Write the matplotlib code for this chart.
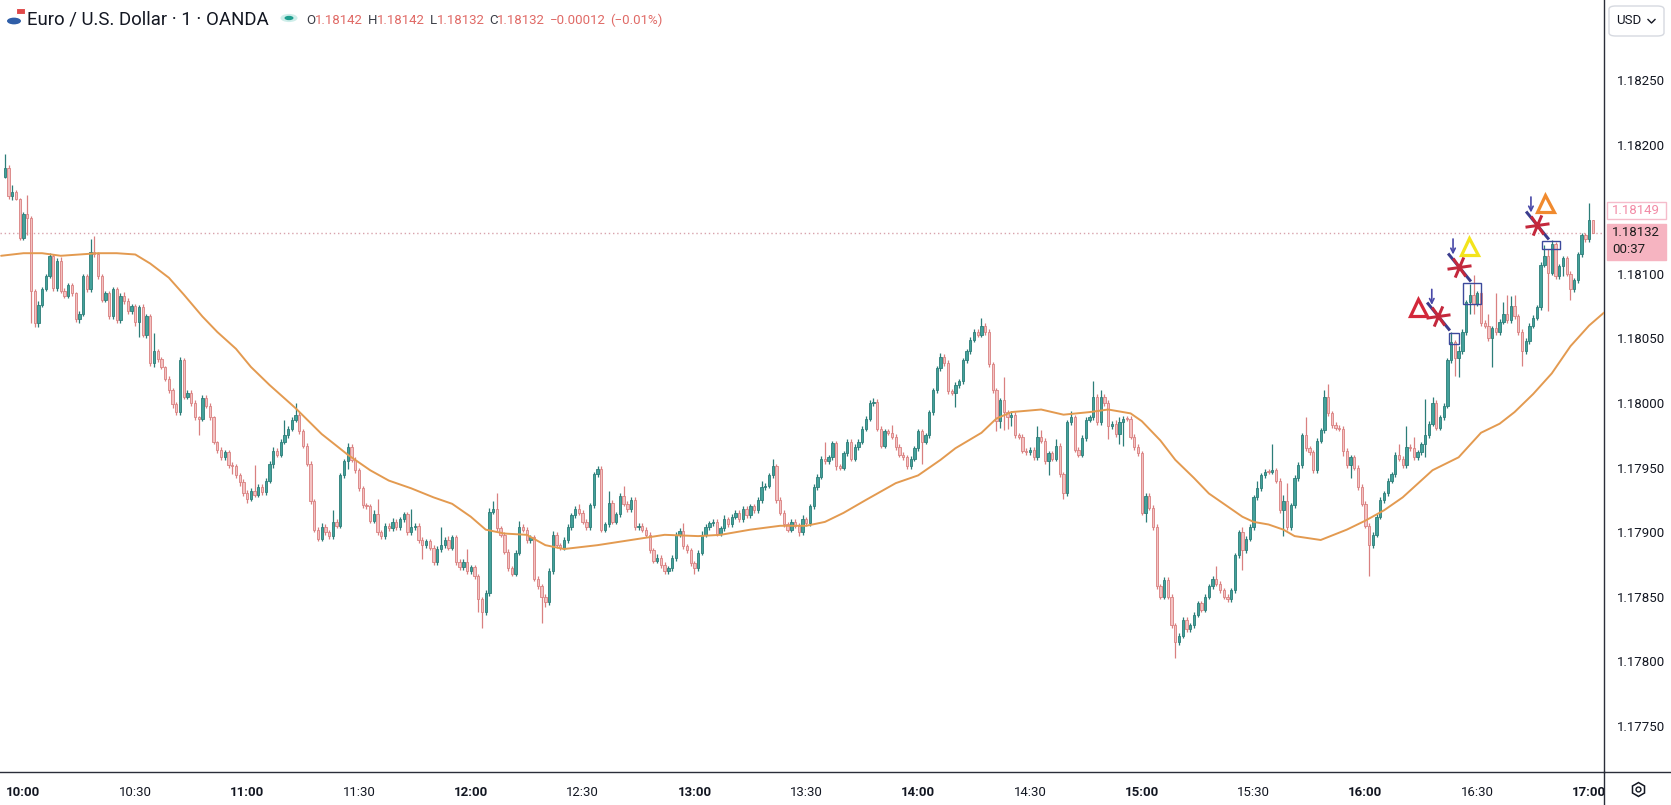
import numpy as np
import matplotlib
matplotlib.use("Agg")
import matplotlib.pyplot as plt
from matplotlib.path import Path
from matplotlib.patches import Rectangle, FancyBboxPatch, Circle
from matplotlib.lines import Line2D

W, H, DPI = 1671, 805, 100

# ---------------- data ----------------
# prices stored as integer steps of 0.00001 above 1.0  (18132 -> 1.18132)
SCALE = 1e5
first_minute = -5          # minutes after 10:00 of the first candle
first_open = 18175
closes = [
 18182, 18160, 18163, 18158, 18128, 18146, 18143, 18087, 18062, 18076,
 18088, 18098, 18114, 18089, 18110, 18087, 18083, 18091, 18085, 18065,
 18069, 18098, 18088, 18117, 18115, 18098, 18080, 18085, 18067, 18088,
 18064, 18083, 18079, 18071, 18075, 18063, 18074, 18053, 18067, 18031,
 18040, 18034, 18028, 18019, 18010, 17999, 17993, 18033, 18005, 18008,
 18000, 17989, 17988, 18004, 17998, 17989, 17970, 17964, 17958, 17962,
 17952, 17951, 17944, 17939, 17930, 17926, 17932, 17929, 17935, 17931,
 17940, 17953, 17963, 17960, 17970, 17975, 17980, 17987, 17991, 17978,
 17967, 17953, 17924, 17902, 17895, 17904, 17900, 17897, 17908, 17905,
 17944, 17955, 17966, 17956, 17948, 17934, 17921, 17920, 17909, 17914,
 17900, 17897, 17905, 17903, 17908, 17904, 17910, 17914, 17900, 17904,
 17905, 17894, 17890, 17893, 17888, 17877, 17887, 17890, 17894, 17888,
 17896, 17877, 17873, 17877, 17870, 17873, 17866, 17848, 17838, 17853,
 17916, 17918, 17903, 17898, 17885, 17872, 17868, 17884, 17904, 17902,
 17894, 17896, 17864, 17858, 17850, 17846, 17870, 17898, 17890, 17888,
 17894, 17904, 17913, 17918, 17915, 17908, 17904, 17921, 17945, 17949,
 17902, 17906, 17923, 17908, 17914, 17928, 17922, 17918, 17925, 17904,
 17905, 17902, 17898, 17886, 17878, 17880, 17875, 17870, 17872, 17880,
 17898, 17901, 17889, 17886, 17876, 17872, 17884, 17898, 17904, 17907,
 17908, 17899, 17903, 17910, 17906, 17912, 17915, 17910, 17918, 17913,
 17920, 17917, 17925, 17935, 17936, 17944, 17951, 17925, 17915, 17906,
 17902, 17908, 17905, 17900, 17910, 17907, 17920, 17935, 17943, 17957,
 17955, 17958, 17969, 17951, 17950, 17961, 17970, 17957, 17966, 17970,
 17980, 17988, 18000, 18001, 17980, 17967, 17978, 17977, 17974, 17966,
 17960, 17958, 17951, 17957, 17965, 17978, 17970, 17975, 17993, 18010,
 18027, 18036, 18031, 18009, 18008, 18014, 18017, 18033, 18040, 18049,
 18055, 18053, 18060, 18055, 18030, 18010, 17986, 18002, 17993, 17989,
 17991, 17975, 17974, 17963, 17962, 17964, 17958, 17974, 17971, 17955,
 17961, 17957, 17967, 17945, 17930, 17985, 17989, 17964, 17960, 17973,
 17987, 17989, 18005, 17985, 18005, 18000, 17982, 17984, 17976, 17985,
 17988, 17988, 17974, 17966, 17961, 17915, 17928, 17919, 17904, 17858,
 17850, 17863, 17850, 17828, 17815, 17820, 17832, 17825, 17828, 17836,
 17845, 17840, 17850, 17858, 17864, 17860, 17855, 17850, 17848, 17855,
 17882, 17900, 17886, 17895, 17904, 17927, 17934, 17944, 17947, 17947,
 17948, 17940, 17917, 17924, 17904, 17921, 17942, 17952, 17975, 17965,
 17962, 17948, 17971, 17979, 18005, 17992, 17983, 17981, 17980, 17963,
 17952, 17958, 17950, 17935, 17922, 17905, 17890, 17898, 17912, 17925,
 17930, 17940, 17945, 17960, 17957, 17952, 17966, 17965, 17958, 17962,
 17968, 17975, 17984, 18000, 17981, 17989, 17998, 18033, 18047, 18035,
 18040, 18055, 18078, 18084, 18077, 18085, 18062, 18060, 18050, 18058,
 18055, 18063, 18069, 18064, 18075, 18067, 18055, 18040, 18048, 18060,
 18066, 18074, 18107, 18114, 18101, 18123, 18098, 18106, 18112, 18100,
 18088, 18095, 18115, 18130, 18127, 18142, 18132,
]
wick_up = [
 11, 2, 6, 2, 1, 2, 15, 2, 1, 3,
 2, 2, 2, 1, 2, 3, 2, 2, 2, 1,
 2, 2, 2, 10, 12, 2, 2, 2, 2, 2,
 2, 2, 3, 2, 2, 2, 2, 3, 2, 2,
 14, 2, 2, 1, 2, 2, 2, 3, 2, 2,
 2, 2, 1, 2, 2, 2, 1, 1, 2, 2,
 2, 2, 2, 2, 2, 3, 2, 20, 2, 2,
 2, 2, 3, 2, 2, 12, 2, 2, 9, 2,
 2, 2, 2, 2, 2, 3, 2, 2, 9, 2,
 2, 2, 3, 2, 2, 2, 2, 2, 2, 3,
 12, 2, 2, 2, 3, 2, 2, 2, 2, 14,
 2, 2, 2, 2, 2, 2, 2, 14, 2, 3,
 2, 2, 2, 2, 10, 2, 2, 2, 2, 2,
 3, 6, 12, 2, 2, 2, 2, 2, 5, 2,
 2, 2, 2, 2, 2, 2, 2, 3, 2, 2,
 2, 2, 2, 2, 4, 2, 2, 2, 2, 2,
 2, 2, 9, 2, 2, 2, 8, 2, 2, 2,
 2, 2, 2, 2, 2, 3, 2, 2, 2, 2,
 2, 2, 6, 2, 2, 2, 2, 3, 2, 2,
 2, 2, 2, 3, 2, 2, 2, 2, 2, 2,
 2, 2, 2, 5, 2, 2, 6, 2, 2, 2,
 2, 2, 2, 2, 3, 2, 2, 2, 2, 2,
 13, 2, 2, 2, 2, 2, 2, 2, 2, 2,
 2, 2, 2, 3, 2, 2, 2, 2, 6, 2,
 2, 2, 2, 2, 2, 2, 2, 2, 2, 2,
 2, 3, 2, 2, 2, 2, 2, 2, 2, 2,
 2, 2, 6, 2, 2, 2, 2, 2, 18, 2,
 3, 2, 2, 2, 2, 2, 2, 8, 5, 2,
 2, 2, 5, 2, 2, 2, 5, 2, 2, 2,
 2, 2, 12, 2, 5, 2, 2, 2, 3, 4,
 2, 2, 2, 2, 2, 2, 2, 2, 2, 2,
 2, 2, 2, 2, 2, 2, 2, 2, 2, 2,
 2, 2, 2, 2, 2, 10, 2, 2, 2, 2,
 2, 2, 4, 2, 2, 2, 6, 2, 2, 2,
 20, 2, 2, 5, 14, 2, 2, 2, 2, 14,
 2, 2, 2, 2, 5, 10, 2, 2, 2, 2,
 2, 2, 2, 2, 2, 2, 2, 2, 2, 2,
 2, 2, 2, 2, 8, 2, 16, 2, 9, 2,
 2, 28, 2, 5, 2, 2, 2, 2, 8, 2,
 4, 2, 2, 8, 15, 2, 2, 2, 9, 2,
 27, 2, 9, 15, 8, 9, 2, 2, 2, 2,
 2, 2, 2, 8, 5, 3, 2, 2, 2, 2,
 2, 2, 2, 2, 2, 13, 0,
]
wick_dn = [
 1, 2, 3, 1, 2, 2, 13, 25, 3, 3,
 2, 1, 1, 2, 2, 2, 2, 2, 2, 2,
 3, 2, 2, 2, 2, 2, 2, 2, 2, 2,
 2, 2, 2, 2, 2, 3, 12, 2, 3, 2,
 3, 2, 2, 2, 2, 3, 2, 2, 2, 2,
 2, 2, 13, 2, 2, 2, 2, 3, 2, 2,
 2, 6, 2, 3, 2, 3, 2, 2, 2, 2,
 2, 2, 3, 2, 2, 2, 2, 2, 2, 2,
 2, 2, 2, 2, 2, 2, 2, 2, 2, 2,
 2, 2, 6, 2, 2, 2, 2, 2, 2, 2,
 2, 2, 2, 2, 2, 2, 2, 2, 2, 2,
 2, 2, 11, 2, 2, 2, 2, 2, 2, 2,
 2, 2, 2, 2, 2, 2, 2, 10, 12, 2,
 2, 2, 2, 2, 2, 2, 2, 2, 2, 2,
 2, 2, 2, 2, 20, 4, 2, 2, 2, 2,
 2, 2, 2, 2, 2, 2, 2, 2, 2, 2,
 2, 2, 2, 2, 2, 2, 2, 2, 2, 2,
 2, 2, 2, 2, 2, 2, 3, 2, 2, 2,
 2, 2, 2, 2, 2, 4, 2, 2, 2, 2,
 2, 2, 2, 2, 2, 2, 2, 2, 2, 2,
 2, 2, 2, 2, 2, 2, 2, 2, 2, 2,
 2, 2, 2, 3, 2, 2, 2, 2, 2, 2,
 2, 2, 2, 3, 2, 2, 2, 2, 2, 2,
 2, 2, 2, 2, 2, 2, 2, 2, 2, 2,
 2, 2, 2, 2, 2, 2, 17, 2, 2, 2,
 2, 2, 2, 2, 2, 11, 2, 2, 2, 2,
 2, 2, 2, 2, 2, 2, 8, 5, 14, 9,
 7, 2, 2, 2, 2, 2, 2, 2, 2, 2,
 11, 2, 2, 2, 4, 2, 2, 2, 2, 2,
 2, 2, 2, 2, 2, 2, 10, 2, 2, 8,
 18, 2, 2, 2, 2, 2, 7, 2, 2, 2,
 2, 2, 2, 2, 12, 2, 2, 2, 2, 2,
 2, 2, 2, 2, 2, 2, 2, 2, 2, 2,
 2, 2, 15, 2, 2, 2, 2, 2, 2, 2,
 2, 2, 2, 20, 2, 2, 2, 2, 2, 2,
 2, 2, 2, 2, 2, 2, 2, 2, 2, 4,
 2, 10, 2, 2, 2, 2, 24, 2, 2, 2,
 2, 2, 2, 2, 2, 2, 2, 2, 2, 2,
 2, 10, 2, 2, 2, 2, 2, 2, 2, 14,
 15, 2, 2, 9, 8, 2, 2, 2, 2, 22,
 2, 2, 2, 2, 2, 2, 2, 11, 2, 2,
 2, 2, 2, 2, 30, 2, 2, 2, 8, 2,
 8, 2, 2, 2, 2, 2, 0,
]

# moving average
ma_minutes = [-6, 0, 5, 10, 15, 20, 25, 30, 34, 39, 43, 48, 52, 57, 61, 66, 73, 80,
              87, 93, 98, 104, 110, 115, 120, 124, 129, 135, 140, 145, 154, 163, 172,
              181, 187, 195, 203, 210, 215, 220, 226, 234, 240, 246, 250, 257, 261,
              265, 273, 279, 286, 291, 297, 300, 305, 309, 314, 318, 323, 327, 330,
              334, 338, 341, 348, 355, 360, 365, 370, 378, 385, 391, 396, 400, 405,
              410, 415, 420, 424]
ma_values = [18114, 18116, 18116, 18114, 18115, 18116, 18116, 18115, 18108, 18097,
             18084, 18067, 18055, 18042, 18028, 18014, 17996, 17976, 17960, 17948,
             17940, 17934, 17927, 17922, 17912, 17902, 17899, 17898, 17890, 17887,
             17890, 17894, 17898, 17897, 17898, 17902, 17905, 17905, 17908, 17915,
             17925, 17938, 17944, 17956, 17965, 17977, 17988, 17993, 17995, 17991,
             17993, 17995, 17992, 17986, 17971, 17956, 17942, 17930, 17920, 17912,
             17908, 17906, 17902, 17897, 17894, 17902, 17909, 17917, 17927, 17948,
             17958, 17977, 17984, 17993, 18007, 18023, 18044, 18060, 18070]

time_tick_minutes = [0, 30, 60, 90, 120, 150, 180, 210, 240, 270, 300, 330, 360, 390, 420]
time_tick_labels = ['10:00', '10:30', '11:00', '11:30', '12:00', '12:30', '13:00', '13:30',
                    '14:00', '14:30', '15:00', '15:30', '16:00', '16:30', '17:00']
# 1.18150 is hidden behind the 1.18149 label in the reference
price_ticks = [1.17750, 1.17800, 1.17850, 1.17900, 1.17950, 1.18000,
               1.18050, 1.18100, 1.18200, 1.18250]

last_price = 1.18132
hi_label_price = 1.18149
countdown = '00:37'
header_title = 'Euro / U.S. Dollar · 1 · OANDA'
ohlc_letters = ['O', 'H', 'L', 'C']
ohlc_values = ['1.18142', '1.18142', '1.18132', '1.18132']
change_text = '−0.00012'
change_pct = '(−0.01%)'

# signal markers (minute, price in 1e-5 steps)
sig_minutes = [379.6, 385.2, 406.0]
sig_prices = [18067.6, 18105.5, 18138.0]
arrow_minutes = [377.8, 383.5, 404.4]
arrow_prices = [18082.0, 18121.0, 18153.5]
tri_minutes = [374.2, 387.7, 408.2]
tri_prices = [18074.5, 18121.5, 18154.6]
tri_colors = ['#d3283a', '#f3e41c', '#f08a2e']
box_min_lo = [382.3, 386.3, 407.4]
box_min_hi = [385.0, 391.0, 412.1]
box_price_lo = [18046.0, 18077.0, 18119.0]
box_price_hi = [18054.0, 18093.0, 18125.6]

# ---------------- figure ----------------
plt.rcParams['font.family'] = ['Roboto', 'DejaVu Sans']
fig = plt.figure(figsize=(W / DPI, H / DPI), dpi=DPI, facecolor='white')
AX_RIGHT = 1604
AX_BOTTOM = 772
ax = fig.add_axes([0, (H - AX_BOTTOM) / H, AX_RIGHT / W, AX_BOTTOM / H])
ax.set_facecolor('white')

n = min(len(closes), len(wick_up), len(wick_dn))
c = np.array(closes[:n], dtype=float) / SCALE + 1.0
o = np.concatenate([[first_open], closes[:n - 1]]).astype(float) / SCALE + 1.0
hi = np.maximum(o, c) + np.array(wick_up[:n]) / SCALE
lo = np.minimum(o, c) - np.array(wick_dn[:n]) / SCALE
t = np.arange(n) + first_minute
up = c > o

UP_FILL, UP_EDGE = '#43a19b', '#2c7d78'
DN_FILL, DN_EDGE = '#f4c2c2', '#d98080'
fills = np.where(up, UP_FILL, DN_FILL)
edges = np.where(up, UP_EDGE, DN_EDGE)
bottoms = np.minimum(o, c)
heights = np.maximum(np.abs(c - o), 0.3 / SCALE)

ax.vlines(t, lo, hi, colors=edges, linewidth=0.9, zorder=2)
ax.bar(t, heights, width=0.62, bottom=bottoms, color=fills, edgecolor=edges,
       linewidth=0.6, zorder=3)

ax.plot(np.array(ma_minutes), np.array(ma_values) / SCALE + 1.0, color='#e39a50',
        linewidth=1.4, zorder=4, solid_capstyle='round', solid_joinstyle='round')

ax.axhline(last_price, color='#d8a3ac', linewidth=1.0, linestyle=(0, (1, 2)), zorder=1)

# signals
for m0, m1, p0, p1 in zip(box_min_lo, box_min_hi, box_price_lo, box_price_hi):
    ax.add_patch(Rectangle((m0, p0 / SCALE + 1), m1 - m0, (p1 - p0) / SCALE,
                           fill=False, edgecolor='#3c4a9c', linewidth=1.0, zorder=5))

line_marker = Path([(-11, 13.5), (11, -13.5)], [Path.MOVETO, Path.LINETO])
star_marker = Path([(-12, -1.7), (12, 1.7), (-4.3, -10.1), (4.3, 10.1), (-6.3, 9), (6.3, -9)],
                   [Path.MOVETO, Path.LINETO] * 3)
sp = np.array(sig_prices) / SCALE + 1.0
ax.plot(sig_minutes, sp, linestyle='none', marker=line_marker, markersize=28 * 72 / DPI,
        markeredgewidth=3.0 * 72 / DPI, markeredgecolor='#3b3d8e', markerfacecolor='none', zorder=6)
ax.plot(sig_minutes, sp, linestyle='none', marker=star_marker, markersize=24 * 72 / DPI,
        markeredgewidth=3.0 * 72 / DPI, markeredgecolor='#c4283c', markerfacecolor='none', zorder=7)

for m, p in zip(arrow_minutes, arrow_prices):
    ax.annotate('', xy=(m, (p - 6) / SCALE + 1), xytext=(m, (p + 6) / SCALE + 1),
                arrowprops=dict(arrowstyle='->', color='#4848a8', lw=1.2, mutation_scale=8,
                                shrinkA=0, shrinkB=0), zorder=7)

for m, p, col in zip(tri_minutes, tri_prices, tri_colors):
    ax.plot([m], [p / SCALE + 1], marker='^', markersize=17 * 72 / DPI, markerfacecolor='none',
            markeredgecolor=col, markeredgewidth=3.2 * 72 / DPI, linestyle='none', zorder=7)

# axes limits & ticks
ax.set_xlim(-6.3, 424.0)
ax.set_ylim(1.177144, 1.18312)
ax.set_xticks(time_tick_minutes)
ax.set_xticklabels(time_tick_labels)
for lab in ax.get_xticklabels():
    lab.set_fontweight('bold' if lab.get_text().endswith(':00') else 'normal')
ax.set_yticks(price_ticks)
ax.set_yticklabels([f'{v:.5f}' for v in price_ticks])
ax.yaxis.tick_right()
ax.tick_params(axis='both', length=0, labelsize=9.5, colors='#131722')
ax.tick_params(axis='x', pad=10)
ax.tick_params(axis='y', pad=9)
for s in ['top', 'left']:
    ax.spines[s].set_visible(False)
for s in ['right', 'bottom']:
    ax.spines[s].set_color('#2a2e39')
    ax.spines[s].set_linewidth(1.0)

fig.add_artist(Line2D([AX_RIGHT / W, 1], [(H - AX_BOTTOM) / H] * 2, color='#2a2e39',
                      linewidth=1.0, transform=fig.transFigure))
fig.add_artist(Line2D([AX_RIGHT / W] * 2, [0, (H - AX_BOTTOM) / H], color='#2a2e39',
                      linewidth=1.0, transform=fig.transFigure))

def py_of(price):
    return ax.transData.transform((0, price))[1]   # display pixels from bottom

# price labels on the right axis
yh = py_of(hi_label_price)
fig.add_artist(Rectangle((1607 / W, (yh - 8.5) / H), 59 / W, 17 / H, transform=fig.transFigure,
                         facecolor='white', edgecolor='#f5bccb', linewidth=1.0, zorder=5))
fig.text(1612 / W, yh / H, f'{hi_label_price:.5f}', color='#f28ba6', fontsize=9.5,
         va='center', ha='left', zorder=6)
yl = py_of(last_price)
fig.add_artist(Rectangle((1607 / W, (yl - 27.5) / H), 59 / W, 36 / H, transform=fig.transFigure,
                         facecolor='#f6b4c1', edgecolor='#f6b4c1', linewidth=1.0, zorder=5))
fig.text(1612 / W, yl / H, f'{last_price:.5f}', color='#1d1d1d', fontsize=9.5,
         va='center', ha='left', zorder=6)
fig.text(1612 / W, (yl - 17) / H, countdown, color='#1d1d1d', fontsize=9.5,
         va='center', ha='left', zorder=6)

# USD box
fig.add_artist(FancyBboxPatch((1609 / W, (H - 36) / H), 55 / W, 30 / H,
                              boxstyle='round,pad=0,rounding_size=0.004', transform=fig.transFigure,
                              facecolor='white', edgecolor='#d6d9e0', linewidth=1.0))
fig.text(1616 / W, 1 - 21 / H, 'USD', color='#131722', fontsize=9.5, va='center', ha='left')
fig.add_artist(Line2D([1648 / W, 1651.5 / W, 1655 / W], [1 - 19.5 / H, 1 - 23 / H, 1 - 19.5 / H],
                      color='#131722', linewidth=1.0, transform=fig.transFigure))

# settings icon bottom right
fig.add_artist(Line2D([1638 / W], [1 - 789 / H], marker='h', markersize=10, markerfacecolor='none',
                      markeredgecolor='#131722', markeredgewidth=1.1, transform=fig.transFigure))
fig.add_artist(Line2D([1638 / W], [1 - 789 / H], marker='o', markersize=3.5, markerfacecolor='none',
                      markeredgecolor='#131722', markeredgewidth=1.0, transform=fig.transFigure))

# header: symbol icon
fig.add_artist(Circle((14 / W, 1 - 21 / H), 7 / W, transform=fig.transFigure, facecolor='#2f5ea8',
                      edgecolor='none'))
fig.add_artist(Rectangle((16 / W, 1 - 14 / H), 9 / W, 6 / H, transform=fig.transFigure,
                         facecolor='#e04848', edgecolor='white', linewidth=0.8))
fig.text(27 / W, 1 - 20 / H, header_title, color='#131722', fontsize=13.4, va='center', ha='left')
fig.add_artist(Circle((289 / W, 1 - 18 / H), 8.5 / W, transform=fig.transFigure,
                      facecolor='#cfeeea', edgecolor='none'))
fig.add_artist(Circle((289 / W, 1 - 18 / H), 4.5 / W, transform=fig.transFigure,
                      facecolor='#1f9e8e', edgecolor='none'))

fig.canvas.draw()
renderer = fig.canvas.get_renderer()
DARK, RED = '#3a3d46', '#e06a66'
segments = []
for L, v in zip(ohlc_letters, ohlc_values):
    segments.append((L, DARK))
    segments.append((v, RED))
    segments.append((None, None))
segments.append((change_text, RED))
segments.append((None, None))
segments.append((change_pct, RED))

OHLC_SIZE = 9.5
GAP = 4.5
x = 306
for s, col in segments:
    if s is None:
        x += GAP
        continue
    tx = fig.text(x / W, 1 - 20 / H, s, color=col, fontsize=OHLC_SIZE, va='center', ha='left')
    x += tx.get_window_extent(renderer).width

fig.savefig('out.png', dpi=DPI, facecolor='white')
